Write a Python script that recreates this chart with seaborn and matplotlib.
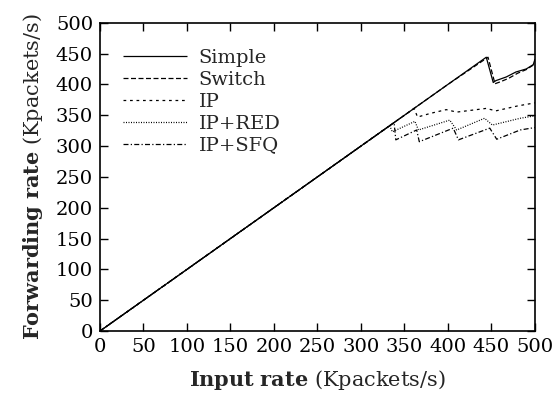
import matplotlib
matplotlib.use("Agg")
import matplotlib.pyplot as plt
import seaborn as sns
import pandas as pd

sns.set_theme(style="ticks")
plt.rcParams['font.family'] = ['DejaVu Serif']
plt.rcParams['mathtext.fontset'] = 'dejavuserif'

simple_x = [0, 100, 200, 300, 400, 444, 452, 455, 467, 478, 490, 498, 500]
simple_y = [0, 100, 200, 300, 400, 444, 403, 406, 412, 420, 425, 432, 441]
switch_x = [0, 100, 200, 300, 400, 446, 454, 460, 470, 480, 490, 500]
switch_y = [0, 100, 200, 300, 400, 444, 401, 404, 410, 418, 424, 433]
ip_x = [0, 100, 200, 300, 361, 365, 380, 398, 410, 444, 455, 480, 500]
ip_y = [0, 100, 200, 300, 361, 347, 353, 359, 355, 361, 357, 365, 370]
red_x = [0, 100, 200, 300, 333, 336, 362, 366, 402, 410, 442, 451, 483, 500]
red_y = [0, 100, 200, 300, 333, 323, 340, 326, 342, 326, 345, 334, 345, 349]
sfq_x = [0, 100, 200, 300, 338, 340, 364, 367, 406, 412, 448, 456, 483, 500]
sfq_y = [0, 100, 200, 300, 338, 310, 326, 307, 329, 310, 329, 311, 326, 330]

series = [
    ("Simple", simple_x, simple_y, (0, ())),
    ("Switch", switch_x, switch_y, (0, (4, 2))),
    ("IP", ip_x, ip_y, (0, (2.2, 3))),
    ("IP+RED", red_x, red_y, (0, (0.8, 1.2))),
    ("IP+SFQ", sfq_x, sfq_y, (0, (4, 1.8, 1, 1.8))),
]

fig = plt.figure(figsize=(5.54, 3.98), dpi=100)
ax = fig.add_axes([0.1805, 0.1683, 0.7852, 0.7747])

for name, xs, ys, ls in series:
    df = pd.DataFrame({"x": xs, "y": ys})
    sns.lineplot(data=df, x="x", y="y", ax=ax, color="black", lw=0.9,
                 linestyle=ls, label=name, sort=False, estimator=None)

ax.set_xlim(0, 500)
ax.set_ylim(0, 500)
ax.set_xticks(range(0, 501, 50))
ax.set_yticks(range(0, 501, 50))
ax.tick_params(direction="in", length=5.5, width=1, top=True, right=True,
               labelsize=14, colors="black", pad=5)
for s in ax.spines.values():
    s.set_linewidth(1.2)
    s.set_color("black")

ax.set_xlabel(r"$\mathbf{Input\ rate}$ (Kpackets/s)", fontsize=15, labelpad=9)
ax.set_ylabel(r"$\mathbf{Forwarding\ rate}$ (Kpackets/s)", fontsize=15, labelpad=8)

leg = ax.legend(loc="upper left", bbox_to_anchor=(0.035, 0.94), frameon=False,
                fontsize=14, handlelength=3.3, handletextpad=0.6,
                labelspacing=0.2, borderaxespad=0)

fig.savefig("out.png", dpi=100)
